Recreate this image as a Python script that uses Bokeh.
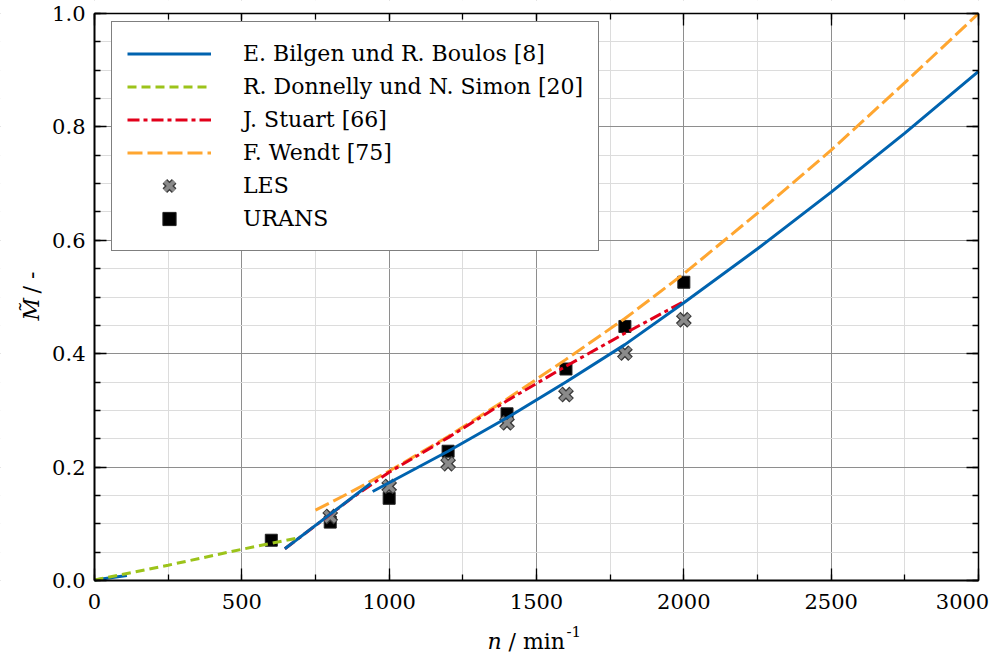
import math

from bokeh.plotting import figure
from bokeh.models import (Range1d, SingleIntervalTicker, LinearAxis, Grid, Legend,
                          LegendItem, PrintfTickFormatter, Label, BoxAnnotation)
from bokeh.embed import file_html
from bokeh.resources import INLINE

nan = float("nan")

# Torque M~ over rotational speed n (1/min)
# Bilgen & Boulos correlation: three regime branches, separated by NaN
bilgen_n = [0, 110, nan, 646, 790, 937, nan, 944, 1200, 1400, 1600, 1800, 2000, 2250, 2500, 2750, 3000]
bilgen_M = [0.001, 0.009, nan, 0.056, 0.113, 0.171, nan, 0.157, 0.228, 0.287, 0.350, 0.416, 0.490,
            0.585, 0.685, 0.789, 0.898]

donnelly_n = [0, 250, 500, 690]
donnelly_M = [0.001, 0.027, 0.055, 0.075]

stuart_n = [646, 870, 1000, 1200, 1400, 1600, 1800, 2000]
stuart_M = [0.056, 0.144, 0.191, 0.252, 0.317, 0.378, 0.436, 0.492]

wendt_n = [750, 870, 1000, 1200, 1400, 1600, 1800, 2000, 2250, 2500, 2750, 3000]
wendt_M = [0.124, 0.156, 0.193, 0.254, 0.320, 0.390, 0.462, 0.541, 0.648, 0.759, 0.878, 1.0]

les_n = [800, 1000, 1200, 1400, 1600, 1800, 2000]
les_M = [0.113, 0.166, 0.206, 0.278, 0.328, 0.401, 0.460]

urans_n = [600, 800, 1000, 1200, 1400, 1600, 1800, 2000]
urans_M = [0.071, 0.103, 0.145, 0.228, 0.294, 0.373, 0.448, 0.526]

series_labels = ["E. Bilgen und R. Boulos [8]", "R. Donnelly und N. Simon [20]",
                 "J. Stuart [66]", "F. Wendt [75]", "LES", "URANS"]

N_MAX = 3000
M_MAX = 1.0

FONT = "DejaVu Serif"
TICK_FS = "21px"
TEXT_FS = "22px"
BLUE = "#0063AF"
GREEN = "#9CC31A"
RED = "#E2001A"
ORANGE = "#FFA630"
NBSP = "\u00a0"

# page size and the pixel box that holds the data area
W, H = 1003, 658
BOX_L, BOX_R, BOX_T, BOX_B = 94, 978, 13, 580
sx = (BOX_R - BOX_L) / N_MAX
sy = (BOX_B - BOX_T) / M_MAX


def dx(px):
    return (px - BOX_L) / sx


def dy(py):
    return (BOX_B - py) / sy


# the frame fills the page; axes sit at fixed data positions around the data area
p = figure(width=W, height=H, x_range=Range1d(dx(0), dx(W)), y_range=Range1d(dy(H), dy(0)),
           output_backend="svg", toolbar_location=None,
           x_axis_type=None, y_axis_type=None,
           min_border_left=0, min_border_right=0, min_border_top=0, min_border_bottom=0)
p.background_fill_color = "white"
p.border_fill_color = "white"
p.outline_line_color = None

xt = SingleIntervalTicker(interval=500, num_minor_ticks=2)
yt = SingleIntervalTicker(interval=0.2, num_minor_ticks=4)

for dim, tk in ((0, xt), (1, yt)):
    g = Grid(dimension=dim, ticker=tk)
    g.grid_line_color = "#8e8e8e"
    g.grid_line_width = 1
    g.minor_grid_line_color = "#dcdcdc"
    g.minor_grid_line_width = 1
    p.add_layout(g)

# keep the grid inside the data area
for kw in (dict(top=0), dict(bottom=M_MAX), dict(right=0), dict(left=N_MAX)):
    p.add_layout(BoxAnnotation(fill_color="white", fill_alpha=1, line_color=None,
                               level="underlay", **kw))


def style_axis(ax, labels=True, width=2.0, standoff=9):
    ax.axis_line_color = "black"
    ax.axis_line_width = width
    ax.major_tick_in = 12
    ax.major_tick_out = 0
    ax.minor_tick_in = 6
    ax.minor_tick_out = 0
    ax.major_tick_line_color = "black"
    ax.minor_tick_line_color = "black"
    ax.major_tick_line_width = 1.3
    ax.minor_tick_line_width = 1.3
    ax.major_label_text_font = FONT
    ax.major_label_text_font_size = TICK_FS
    ax.major_label_standoff = standoff
    ax.major_label_text_color = "black" if labels else None


XLAB_STANDOFF = 13
xb = LinearAxis(ticker=xt, fixed_location=0, bounds=(0, N_MAX),
                major_label_overrides={N_MAX: ""})
style_axis(xb, standoff=XLAB_STANDOFF)
p.add_layout(xb, "below")
yl = LinearAxis(ticker=yt, fixed_location=0, bounds=(0, M_MAX),
                formatter=PrintfTickFormatter(format="%.1f"))
style_axis(yl)
p.add_layout(yl, "left")
xa = LinearAxis(ticker=xt, fixed_location=M_MAX, bounds=(0, N_MAX))
style_axis(xa, labels=False, width=1.5)
p.add_layout(xa, "above")
yr = LinearAxis(ticker=yt, fixed_location=N_MAX, bounds=(0, M_MAX))
style_axis(yr, labels=False, width=1.5)
p.add_layout(yr, "right")

# last tick label pulled inside the page edge
p.add_layout(Label(x=dx(962), y=dy(BOX_B + XLAB_STANDOFF), text=str(N_MAX),
                   text_font=FONT, text_font_size=TICK_FS, text_color="black",
                   text_align="center", text_baseline="top"))

# measured points
r_urans = p.scatter(urans_n, urans_M, marker="square", size=12, fill_color="black",
                    line_color="#222222", line_width=1)
r_les_o = p.scatter(les_n, les_M, marker="x", size=16, line_color="#3a3a3a", line_width=6.5)
r_les_i = p.scatter(les_n, les_M, marker="x", size=14.5, line_color="#8a8a8a", line_width=3.8)

# correlations
r_wendt = p.line(wendt_n, wendt_M, line_color=ORANGE, line_width=3, line_dash="15 5")
r_stuart = p.line(stuart_n, stuart_M, line_color=RED, line_width=3, line_dash="12 4 4 4")
r_bilgen = p.line(bilgen_n, bilgen_M, line_color=BLUE, line_width=3)
r_donnelly = p.line(donnelly_n, donnelly_M, line_color=GREEN, line_width=3, line_dash="9 5")

LEG_H = 228
legend = Legend(items=[
    LegendItem(label=series_labels[0], renderers=[r_bilgen]),
    LegendItem(label=series_labels[1], renderers=[r_donnelly]),
    LegendItem(label=series_labels[2], renderers=[r_stuart]),
    LegendItem(label=series_labels[3], renderers=[r_wendt]),
    LegendItem(label=series_labels[4], renderers=[r_les_o, r_les_i]),
    LegendItem(label=series_labels[5], renderers=[r_urans]),
], location=(111, H - 23 - LEG_H))
legend.border_line_color = "black"
legend.border_line_width = 1
legend.background_fill_color = "white"
legend.background_fill_alpha = 1
legend.label_text_font = FONT
legend.label_text_font_size = TEXT_FS
legend.label_text_color = "black"
legend.glyph_width = 84
legend.glyph_height = 33
legend.label_height = 33
legend.label_standoff = 32
legend.spacing = 0
legend.padding = 15
legend.margin = 0
p.add_layout(legend)

# axis titles built from pieces (italic symbol, upright unit, superscript)
top_kw = dict(text_font=FONT, text_font_size=TEXT_FS, text_color="black",
              text_baseline="top", text_align="left")
sup_kw = dict(top_kw, text_font_size="15px")
XT_TOP = 628
p.add_layout(Label(x=dx(487), y=dy(XT_TOP), text="n", text_font_style="italic", **top_kw))
p.add_layout(Label(x=dx(501), y=dy(XT_TOP), text=NBSP + "/" + NBSP + "min", **top_kw))
p.add_layout(Label(x=dx(566), y=dy(XT_TOP - 3), text="-1", **sup_kw))

lab_kw = dict(top_kw, text_baseline="alphabetic")
p.add_layout(Label(x=dx(31), y=dy(320), text="M\u0303", angle=math.pi / 2,
                   text_font_style="italic", **lab_kw))
p.add_layout(Label(x=dx(31), y=dy(300), text=NBSP + "/" + NBSP + "-", angle=math.pi / 2,
                   **lab_kw))

open("out.html", "w").write(file_html(p, INLINE))
